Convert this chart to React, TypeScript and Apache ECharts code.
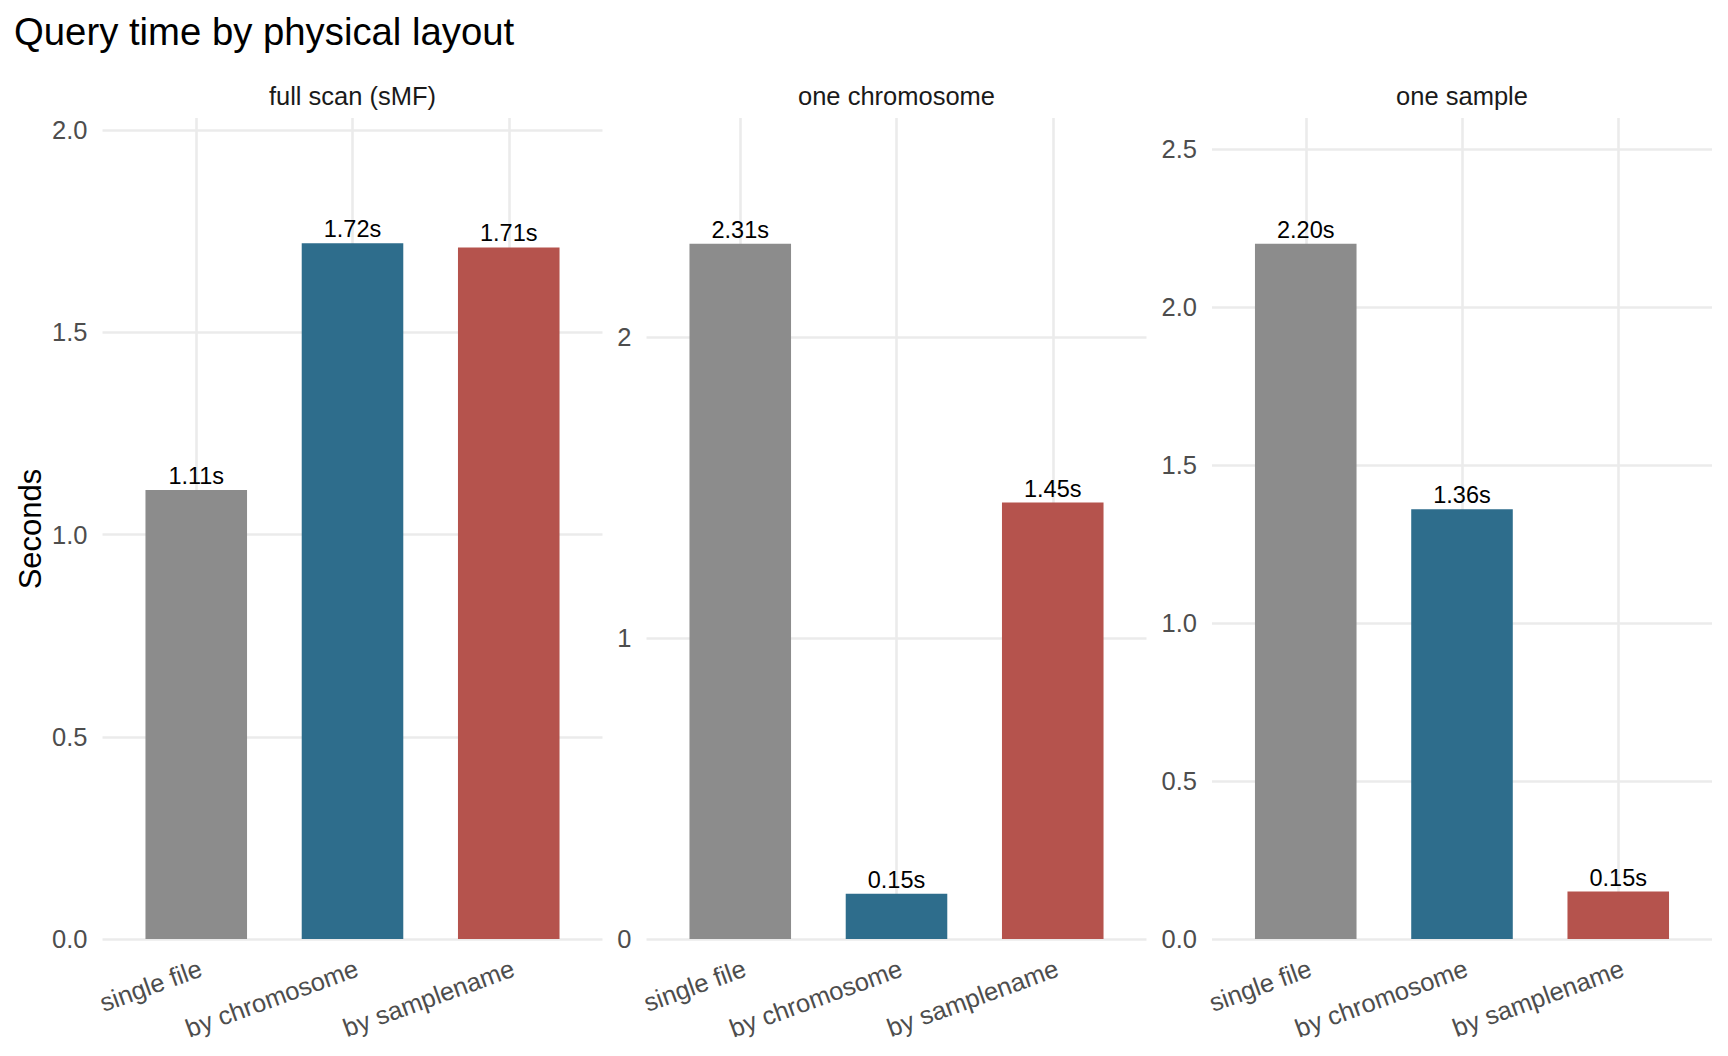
import React, { useEffect, useRef } from 'react';
import * as echarts from 'echarts';

// ---- data ----
const categories = ['single file', 'by chromosome', 'by samplename'];
const panelTitles = ['full scan (sMF)', 'one chromosome', 'one sample'];
const fullScanSeconds = [1.11, 1.72, 1.71];
const oneChromosomeSeconds = [2.31, 0.15, 1.45];
const oneSampleSeconds = [2.2, 1.36, 0.15];
const panelValues = [fullScanSeconds, oneChromosomeSeconds, oneSampleSeconds];
const yMaxes = [2.03, 2.728, 2.598];
const yIntervals = [0.5, 1, 0.5];
const yDecimals = [1, 0, 1];
const barColors = ['#8C8C8C', '#2E6D8C', '#B5534D'];
const chartTitle = 'Query time by physical layout';
const yAxisTitle = 'Seconds';

// ---- layout ----
const FONT = "'Liberation Sans', Arial, sans-serif";
const panelLefts = [102.5, 646.5, 1212];
const PANEL_W = 500;
const PANEL_TOP = 118;
const PANEL_H = 821;
const EXPAND = PANEL_W / 3.2; // width of one category unit
const GRID = '#EBEBEB';
const GRID_W = 2.6;

export default function App() {
  const ref = useRef<HTMLDivElement>(null);

  useEffect(() => {
    if (!ref.current) return;
    const chart = echarts.init(ref.current, undefined, { renderer: 'svg' });

    const grid: any[] = [];
    const xAxis: any[] = [];
    const yAxis: any[] = [];
    const series: any[] = [];
    const graphic: any[] = [];

    panelValues.forEach((vals, i) => {
      const left = panelLefts[i];
      // outer grid: full panel width, holds the y axis and horizontal grid lines
      grid.push({ left, top: PANEL_TOP, width: PANEL_W, height: PANEL_H, containLabel: false });
      // inner grid: category bands
      grid.push({
        left: left + EXPAND * 0.1,
        top: PANEL_TOP,
        width: EXPAND * 3,
        height: PANEL_H,
        containLabel: false,
      });
      const outer = 2 * i;
      const inner = 2 * i + 1;
      const nLines = Math.floor(yMaxes[i] / yIntervals[i] + 1e-9) + 1;
      const lineColors = new Array(nLines).fill(GRID).concat(['rgba(0,0,0,0)']);

      xAxis.push({ type: 'value', gridIndex: outer, show: false, min: 0, max: 1 });
      yAxis.push({
        type: 'value',
        gridIndex: outer,
        min: 0,
        max: yMaxes[i],
        interval: yIntervals[i],
        axisLine: { show: false },
        axisTick: { show: false },
        axisLabel: {
          show: true,
          showMaxLabel: false,
          margin: 15,
          padding: [4, 0, 0, 0],
          fontSize: 25.5,
          fontFamily: FONT,
          color: '#4D4D4D',
          formatter: (v: number) => v.toFixed(yDecimals[i]),
        },
        splitLine: {
          show: true,
          showMaxLine: false,
          lineStyle: { color: lineColors, width: GRID_W },
        },
      });

      xAxis.push({
        type: 'category',
        gridIndex: inner,
        data: categories,
        boundaryGap: true,
        axisLine: { show: false },
        axisTick: { show: false },
        splitLine: { show: false },
        axisLabel: {
          interval: 0,
          rotate: 20,
          align: 'right',
          verticalAlign: 'top',
          margin: 16,
          fontSize: 25.5,
          fontFamily: FONT,
          color: '#4D4D4D',
        },
      });
      yAxis.push({ type: 'value', gridIndex: inner, min: 0, max: yMaxes[i], show: false });

      series.push({
        type: 'bar',
        xAxisIndex: inner,
        yAxisIndex: inner,
        barWidth: '65%',
        z: 3,
        data: vals.map((v, j) => ({ value: v, itemStyle: { color: barColors[j] } })),
        label: {
          show: true,
          position: 'top',
          distance: 2,
          fontSize: 23.5,
          fontFamily: FONT,
          color: '#000000',
          formatter: (p: any) => Number(p.value).toFixed(2) + 's',
        },
        markLine: {
          silent: true,
          z: 1,
          symbol: ['none', 'none'],
          label: { show: false },
          emphasis: { disabled: true },
          lineStyle: { color: GRID, width: GRID_W, type: 'solid' },
          data: categories.map((c) => ({ xAxis: c })),
        },
      });

      graphic.push({
        type: 'text',
        x: left + PANEL_W / 2,
        y: 95.5,
        style: {
          text: panelTitles[i],
          fontSize: 25.5,
          fontFamily: FONT,
          fill: '#1A1A1A',
          align: 'center',
          verticalAlign: 'middle',
        },
      });
    });

    graphic.push({
      type: 'text',
      x: 14,
      y: 31,
      style: {
        text: chartTitle,
        fontSize: 38.3,
        fontFamily: FONT,
        fill: '#000000',
        align: 'left',
        verticalAlign: 'middle',
      },
    });
    graphic.push({
      type: 'text',
      x: 30,
      y: 529,
      rotation: Math.PI / 2,
      style: {
        text: yAxisTitle,
        fontSize: 31,
        fontFamily: FONT,
        fill: '#000000',
        align: 'center',
        verticalAlign: 'middle',
      },
    });

    chart.setOption({
      animation: false,
      backgroundColor: '#FFFFFF',
      textStyle: { fontFamily: FONT },
      grid,
      xAxis,
      yAxis,
      series,
      graphic,
    });

    return () => chart.dispose();
  }, []);

  return (
    <div
      ref={ref}
      style={{ position: 'fixed', left: 0, top: 0, width: 1728, height: 1056, background: '#fff' }}
    />
  );
}
